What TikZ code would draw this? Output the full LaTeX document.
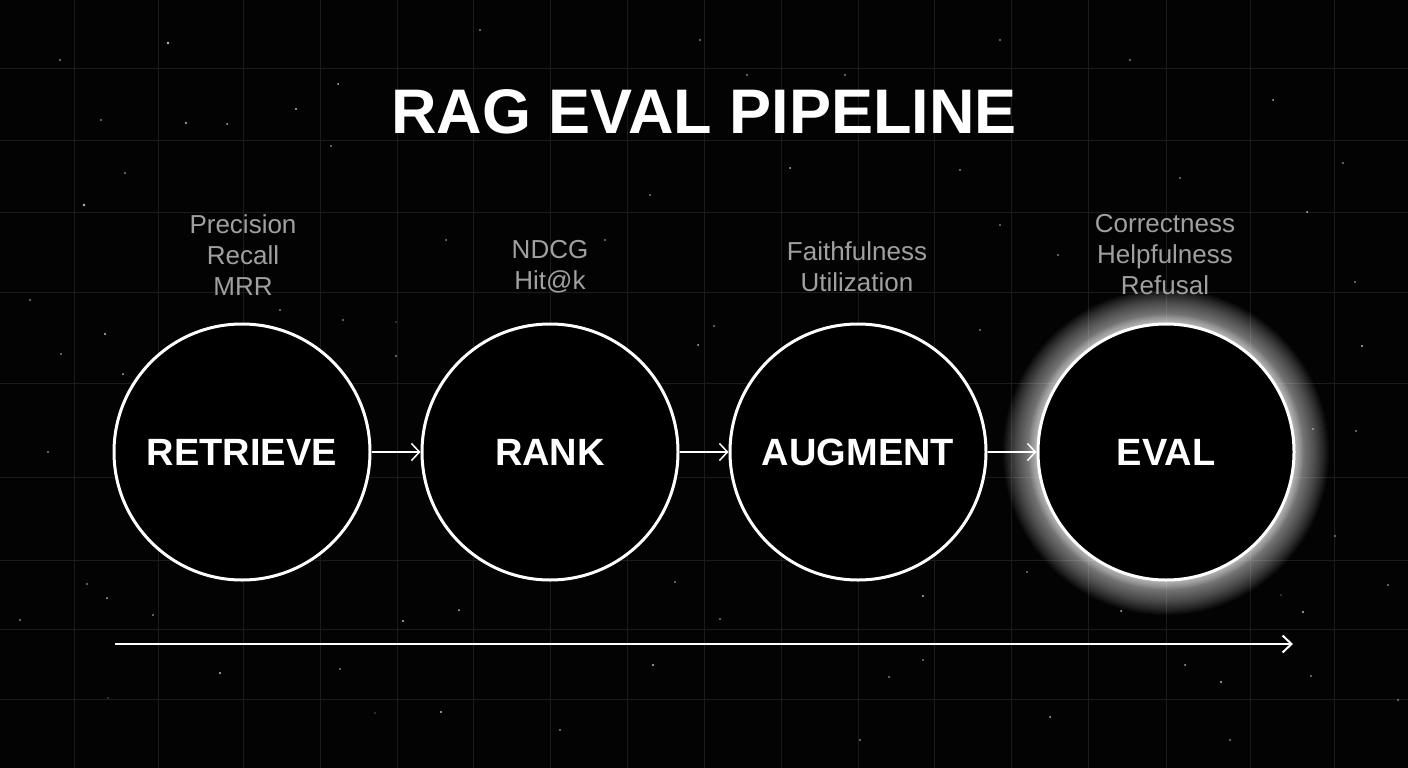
\documentclass[tikz,border=0pt]{standalone}
\usepackage{fontspec}
\setmainfont{Liberation Sans}
\usetikzlibrary{arrows.meta}
\definecolor{bg}{HTML}{030303}
\definecolor{gridc}{HTML}{1B1B1B}
\definecolor{metricc}{HTML}{A0A0A0}
\definecolor{starc}{HTML}{BBBBBB}
\tikzset{
  stage/.style={circle, draw=white, line width=3pt, fill=black, minimum size=256pt, inner sep=0pt,
    text=white, font={\fontsize{38}{40}\selectfont\bfseries}},
  metric/.style={text=metricc, align=center, inner sep=0pt, font={\fontsize{26}{31}\selectfont}},
  flow/.style={draw=white, line width=1.5pt, -{Straight Barb[length=8pt,width=17pt,line width=1.5pt]}},
  timeline/.style={draw=white, line width=2.4pt, -{Straight Barb[length=9pt,width=17pt,line width=2pt]}},
  gridline/.style={draw=gridc, line width=1pt},
  star/.style={fill=starc}
}
\begin{document}
\begin{tikzpicture}[x=1pt,y=-1pt]
\fill[bg] (0,0) rectangle (1408,768);
\useasboundingbox (0,0) rectangle (1408,768);
% grid
\foreach \gx in {74,158,243,320,397,473,550,627,704,781,858,934,1011,1088,1166,1250,1334}
  \draw[gridline] (\gx,0) -- (\gx,768);
\foreach \gy in {69,140,212,292,383,477,560,629,699}
  \draw[gridline] (0,\gy) -- (1408,\gy);
% stars
\foreach \sx/\sy/\sr in {168/43/1.3,338/84/1,296/109/1.2,101/120/0.8,186/123/1.2,227/124/1,331/146/0.8,125/173/0.8,84/205/1.3,
  105/334/1.2,61/354/0.9,123/374/1,280/310/0.8,343/320/0.9,396/322/0.7,396/356/0.9,714/326/0.9,698/345/1,
  1121/611/1,1303/612/1.2,1185/665/1,1221/682/1.1,1311/676/0.8,1050/717/1,
  87/584/0.8,107/598/1,153/615/0.8,220/673/1.2,340/669/0.8,108/698/0.7,403/621/1.1,459/610/1,441/712/1.2,375/713/0.6,
  675/582/0.9,720/619/0.9,653/665/1.2,889/677/0.8,923/660/0.9,923/596/1.1,
  1313/429/0.9,1027/572/0.8,1281/595/0.7,747/75/0.8,845/75/0.8,
  1273/100/1,1343/163/0.9,1307/212/1,1355/282/0.9,1362/346/1.1,1356/431/0.8,1335/536/0.8,
  960/170/0.9,1180/178/0.8,790/168/1,605/240/0.8,446/240/0.9,650/195/0.8,1000/225/0.9,1058/255/0.8,
  980/330/0.8,1388/585/0.9,48/452/0.9,30/300/0.8,20/620/0.9,1398/700/0.8,560/730/0.8,860/740/0.8,1130/60/0.8,
  700/40/0.8,480/30/0.9,1000/40/0.8,60/60/0.8,1230/740/0.9}
  \fill[star] (\sx,\sy) circle (\sr pt);
% title
\node[text=white, font={\fontsize{63}{70}\selectfont\bfseries}, inner sep=0pt] (title) at (704,112) {RAG EVAL PIPELINE};
% glow for eval
\foreach \i in {1,...,32}
  \fill[white, opacity=0.026] (1166,452) circle ({(128+1.1*\i)*1pt});
\foreach \i in {1,...,8}
  \fill[white, opacity=0.06] (1166,452) circle ({(128+1.2*\i)*1pt});
% stages
\node[stage] (retrieve) at (242,452) {RETRIEVE};
\node[stage] (rank) at (550,452) {RANK};
\node[stage] (augment) at (858,452) {AUGMENT};
\node[stage] (eval) at (1166,452) {EVAL};
% metrics
\node[metric] (mretrieve) at (243,255) {Precision\\Recall\\MRR};
\node[metric] (mrank) at (550,267) {NDCG\\Hit@k};
\node[metric] (maugment) at (857,267) {Faithfulness\\Utilization};
\node[metric] (meval) at (1165,255) {Correctness\\Helpfulness\\Refusal};
% flow arrows
\draw[flow] (retrieve.east) -- (rank.west);
\draw[flow] (rank.east) -- (augment.west);
\draw[flow] (augment.east) -- (eval.west);
% timeline
\coordinate (tstart) at (115,644);
\coordinate (tend) at (1293,644);
\draw[timeline] (tstart) -- (tend);
\end{tikzpicture}
\end{document}
